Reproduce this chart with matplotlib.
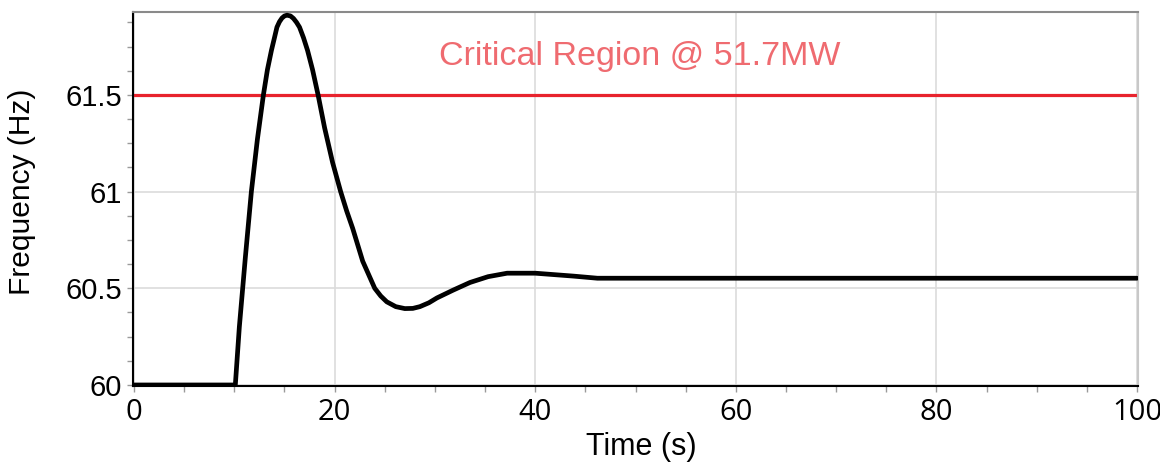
import matplotlib
matplotlib.use('Agg')
import matplotlib.pyplot as plt
from matplotlib.ticker import MultipleLocator
from matplotlib.patches import Rectangle

# frequency response
time_s = [0, 10.1, 10.5, 11.1, 11.7, 12.3, 12.9, 13.3, 13.7, 14.0, 14.25, 14.5, 14.75,
          15.0, 15.25, 15.6, 15.9, 16.2, 16.5, 16.9, 17.3, 17.8, 18.35, 19.0, 19.8,
          20.6, 21.2, 21.8, 22.8, 23.4, 24.0, 24.6, 25.2, 26.1, 27.0, 27.8, 28.5,
          29.4, 30.2, 31.8, 33.5, 35.3, 37.2, 40.0, 43.8, 46.2, 100]
freq_hz = [60, 60, 60.3, 60.66, 61.0, 61.27, 61.5, 61.63, 61.73, 61.795, 61.85, 61.878, 61.897,
           61.908, 61.912, 61.908, 61.895, 61.875, 61.85, 61.795, 61.73, 61.63, 61.5, 61.33, 61.15,
           61.0, 60.9, 60.81, 60.64, 60.57, 60.5, 60.46, 60.43, 60.405, 60.395, 60.396, 60.405,
           60.425, 60.45, 60.49, 60.53, 60.56, 60.578, 60.578, 60.563, 60.552, 60.552]

critical_freq = 61.5
critical_label = 'Critical Region @ 51.7MW'
xticks = [0, 20, 40, 60, 80, 100]
yticks = [60, 60.5, 61, 61.5]
ytick_labels = ['60', '60.5', '61', '61.5']

fig = plt.figure(figsize=(11.71, 4.65), dpi=100)
ax = fig.add_axes([0.1136, 0.170, 0.8582, 0.804])

ax.plot(time_s, freq_hz, color='black', linewidth=3.4, zorder=3,
        solid_joinstyle='round', solid_capstyle='round')
ax.axhline(critical_freq, color='#e8232d', linewidth=2.3, zorder=2)
ax.text(50.4, 61.70, critical_label, color='#ef6b70', fontsize=24.5,
        family='Liberation Sans', ha='center', va='center')

ax.set_xlim(-0.1, 100.1)
ax.set_ylim(59.995, 61.928)

ax.set_xticks(xticks)
ax.set_xticklabels([str(t) for t in xticks], family='Open Sans', fontsize=21)
ax.set_yticks(yticks)
ax.set_yticklabels(ytick_labels, family='Liberation Sans', fontsize=21)
ax.xaxis.set_minor_locator(MultipleLocator(5))
ax.yaxis.set_minor_locator(MultipleLocator(0.125))
ax.tick_params(which='both', direction='out', length=4, width=1, color='#9a9a9a', pad=4)
ax.tick_params(axis='x', pad=5)

ax.grid(True, which='major', color='#dcdcdc', linewidth=1.2, zorder=0)
ax.set_axisbelow(True)

ax.spines['left'].set_color('black')
ax.spines['left'].set_linewidth(1.5)
ax.spines['bottom'].set_color('black')
ax.spines['bottom'].set_linewidth(1.5)
ax.spines['top'].set_color('#8a8a8a')
ax.spines['top'].set_linewidth(1.5)
ax.spines['right'].set_color('#c8c8c8')
ax.spines['right'].set_linewidth(1.5)

ax.set_xlabel('Time (s)', family='Liberation Sans', fontsize=22)
ax.set_ylabel('Frequency (Hz)', family='Liberation Sans', fontsize=21.5)
ax.xaxis.set_label_coords(0.506, -0.122)
ax.yaxis.set_label_coords(-0.097, 0.519)

# reference is cropped on the right edge
fig.patches.append(Rectangle((1160 / 1171, 0), 11 / 1171, 1, transform=fig.transFigure,
                             facecolor='white', edgecolor='none', zorder=10))

fig.savefig('out.png', dpi=100)
